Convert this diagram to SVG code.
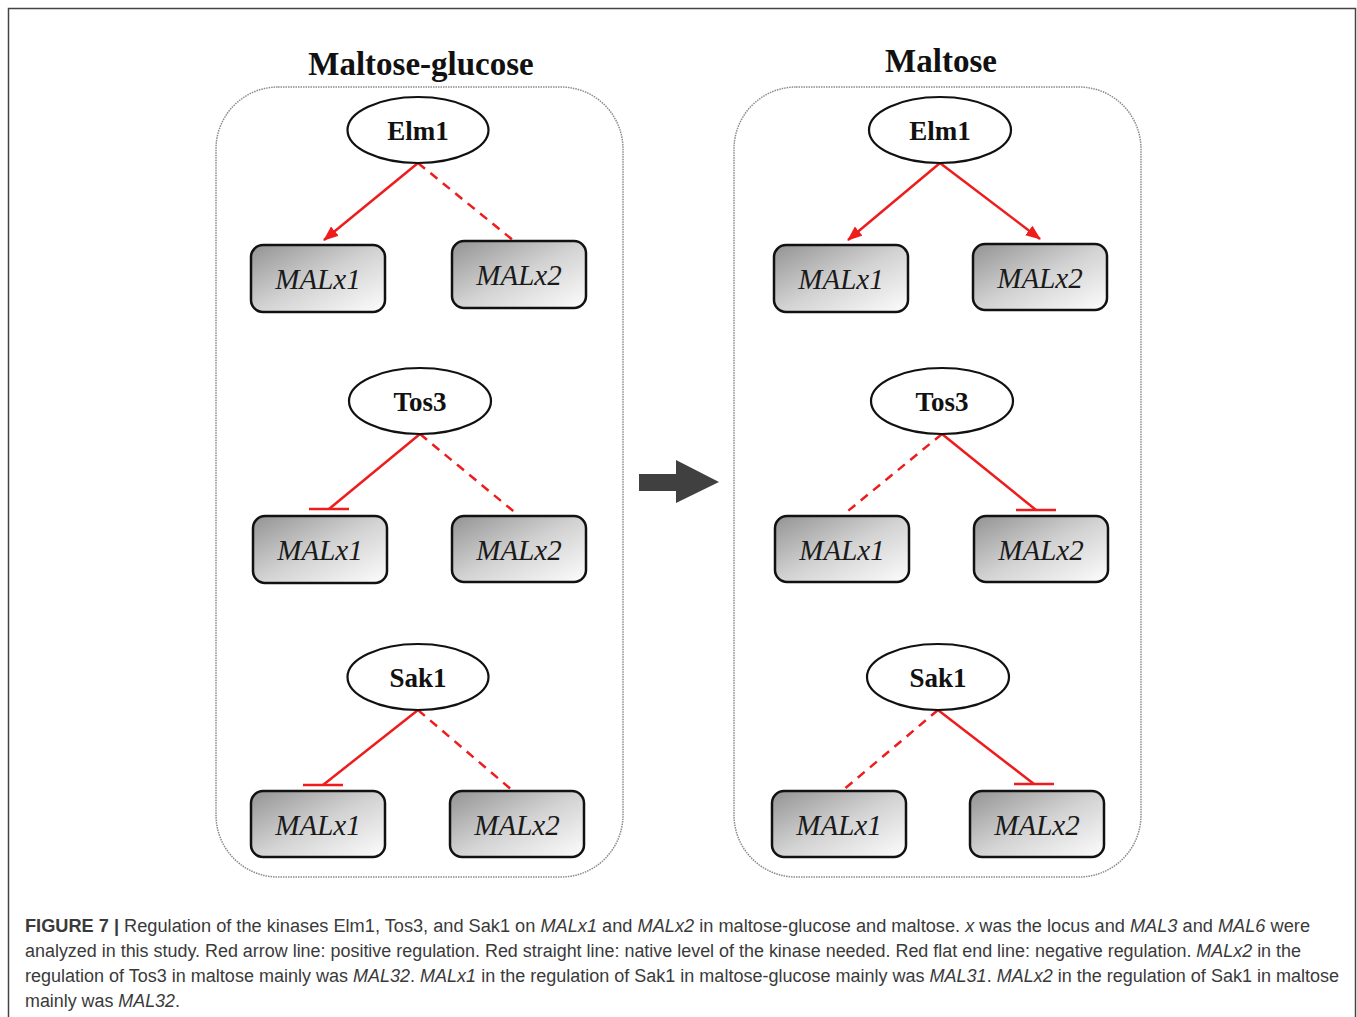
<svg xmlns="http://www.w3.org/2000/svg" width="1357" height="1017" viewBox="0 0 1357 1017">
<defs>
<linearGradient id="boxg" x1="0" y1="0" x2="1" y2="1">
<stop offset="0" stop-color="#939393"/>
<stop offset="0.5" stop-color="#d2d2d2"/>
<stop offset="1" stop-color="#fdfdfd"/>
</linearGradient>
<marker id="arr" markerUnits="userSpaceOnUse" markerWidth="16" markerHeight="14" refX="14" refY="6" orient="auto">
<path d="M0,0 L15,6 L0,12 z" fill="#ee1c1c"/>
</marker>
<style>
.panel{fill:none;stroke:#8a8a8a;stroke-width:1.5;stroke-dasharray:1.5 1}
.title{font-family:"Liberation Serif",serif;font-weight:bold;font-size:33px;fill:#111;text-anchor:middle}
.kin ellipse{fill:#fff;stroke:#111;stroke-width:2.2}
.kin text{font-family:"Liberation Serif",serif;font-weight:bold;font-size:27px;fill:#111;text-anchor:middle}
.gene rect{fill:url(#boxg);stroke:#111;stroke-width:2.5}
.gene text{font-family:"Liberation Serif",serif;font-style:italic;font-size:29px;fill:#1a1a1a;text-anchor:middle}
.pos{stroke:#ee1c1c;stroke-width:2.5;fill:none;marker-end:url(#arr)}
.neu{stroke:#ee1c1c;stroke-width:2.5;fill:none;stroke-dasharray:9 7}
.neg{stroke:#ee1c1c;stroke-width:2.5;fill:none}
.cap{font-family:"Liberation Sans",Arial,sans-serif;font-size:18px;fill:#3a3a3a}
</style>
</defs>
<rect x="0" y="0" width="1357" height="1017" fill="#fff"/>
<rect x="8.5" y="8.5" width="1347" height="1030" fill="none" stroke="#444" stroke-width="1.5"/>

<text class="title" x="421" y="75">Maltose-glucose</text>
<text class="title" x="941" y="72">Maltose</text>

<rect class="panel" x="216" y="87" width="407" height="790" rx="62" ry="62"/>
<rect class="panel" x="734" y="87" width="407" height="790" rx="62" ry="62"/>

<path id="bigarrow" d="M639,474 L676,474 L676,460 L719,482 L676,503 L676,491 L639,491 z" fill="#404040"/>

<g id="connectors">
<line class="pos" x1="418" y1="163" x2="324" y2="240"/>
<line class="neu" x1="418" y1="163" x2="514" y2="241"/>
<line class="neg" x1="420" y1="434" x2="329" y2="509"/>
<line class="neg" x1="309" y1="509" x2="349" y2="509"/>
<line class="neu" x1="420" y1="434" x2="518" y2="515"/>
<line class="neg" x1="418" y1="710" x2="323" y2="785"/>
<line class="neg" x1="303" y1="785" x2="343" y2="785"/>
<line class="neu" x1="418" y1="710" x2="513" y2="791"/>

<line class="pos" x1="940" y1="163" x2="848" y2="240"/>
<line class="pos" x1="940" y1="163" x2="1040" y2="239"/>
<line class="neu" x1="942" y1="434" x2="843" y2="515"/>
<line class="neg" x1="942" y1="434" x2="1036" y2="510"/>
<line class="neg" x1="1016" y1="510" x2="1056" y2="510"/>
<line class="neu" x1="938" y1="710" x2="842" y2="791"/>
<line class="neg" x1="938" y1="710" x2="1034" y2="784"/>
<line class="neg" x1="1014" y1="784" x2="1054" y2="784"/>
</g>

<g id="L_Elm1" class="kin"><ellipse cx="418" cy="130" rx="70.5" ry="33"/><text x="418" y="140">Elm1</text></g>
<g id="L_Tos3" class="kin"><ellipse cx="420" cy="401" rx="71" ry="33"/><text x="420" y="411">Tos3</text></g>
<g id="L_Sak1" class="kin"><ellipse cx="418" cy="677" rx="70.5" ry="33"/><text x="418" y="687">Sak1</text></g>
<g id="R_Elm1" class="kin"><ellipse cx="940" cy="130" rx="71" ry="33"/><text x="940" y="140">Elm1</text></g>
<g id="R_Tos3" class="kin"><ellipse cx="942" cy="401" rx="71" ry="33"/><text x="942" y="411">Tos3</text></g>
<g id="R_Sak1" class="kin"><ellipse cx="938" cy="677" rx="71" ry="33"/><text x="938" y="687">Sak1</text></g>

<g id="L_Elm1_MALx1" class="gene"><rect x="251" y="245" width="134" height="67" rx="12"/><text x="318" y="289">MALx1</text></g>
<g id="L_Elm1_MALx2" class="gene"><rect x="452" y="241" width="134" height="67" rx="12"/><text x="519" y="285">MALx2</text></g>
<g id="L_Tos3_MALx1" class="gene"><rect x="253" y="516" width="134" height="67" rx="12"/><text x="320" y="560">MALx1</text></g>
<g id="L_Tos3_MALx2" class="gene"><rect x="452" y="516" width="134" height="66" rx="12"/><text x="519" y="560">MALx2</text></g>
<g id="L_Sak1_MALx1" class="gene"><rect x="251" y="791" width="134" height="66" rx="12"/><text x="318" y="835">MALx1</text></g>
<g id="L_Sak1_MALx2" class="gene"><rect x="450" y="791" width="134" height="66" rx="12"/><text x="517" y="835">MALx2</text></g>

<g id="R_Elm1_MALx1" class="gene"><rect x="774" y="245" width="134" height="67" rx="12"/><text x="841" y="289">MALx1</text></g>
<g id="R_Elm1_MALx2" class="gene"><rect x="973" y="244" width="134" height="66" rx="12"/><text x="1040" y="288">MALx2</text></g>
<g id="R_Tos3_MALx1" class="gene"><rect x="775" y="516" width="134" height="66" rx="12"/><text x="842" y="560">MALx1</text></g>
<g id="R_Tos3_MALx2" class="gene"><rect x="974" y="516" width="134" height="66" rx="12"/><text x="1041" y="560">MALx2</text></g>
<g id="R_Sak1_MALx1" class="gene"><rect x="772" y="791" width="134" height="66" rx="12"/><text x="839" y="835">MALx1</text></g>
<g id="R_Sak1_MALx2" class="gene"><rect x="970" y="791" width="134" height="66" rx="12"/><text x="1037" y="835">MALx2</text></g>

<g id="caption" class="cap">
<text x="25" y="932" textLength="1285" lengthAdjust="spacingAndGlyphs"><tspan font-weight="bold">FIGURE 7 |</tspan> Regulation of the kinases Elm1, Tos3, and Sak1 on <tspan font-style="italic">MALx1</tspan> and <tspan font-style="italic">MALx2</tspan> in maltose-glucose and maltose. <tspan font-style="italic">x</tspan> was the locus and <tspan font-style="italic">MAL3</tspan> and <tspan font-style="italic">MAL6</tspan> were</text>
<text x="25" y="957" textLength="1276" lengthAdjust="spacingAndGlyphs">analyzed in this study. Red arrow line: positive regulation. Red straight line: native level of the kinase needed. Red flat end line: negative regulation. <tspan font-style="italic">MALx2</tspan> in the</text>
<text x="25" y="982" textLength="1314" lengthAdjust="spacingAndGlyphs">regulation of Tos3 in maltose mainly was <tspan font-style="italic">MAL32</tspan>. <tspan font-style="italic">MALx1</tspan> in the regulation of Sak1 in maltose-glucose mainly was <tspan font-style="italic">MAL31</tspan>. <tspan font-style="italic">MALx2</tspan> in the regulation of Sak1 in maltose</text>
<text x="25" y="1007" textLength="155" lengthAdjust="spacingAndGlyphs">mainly was <tspan font-style="italic">MAL32</tspan>.</text>
</g>
</svg>
